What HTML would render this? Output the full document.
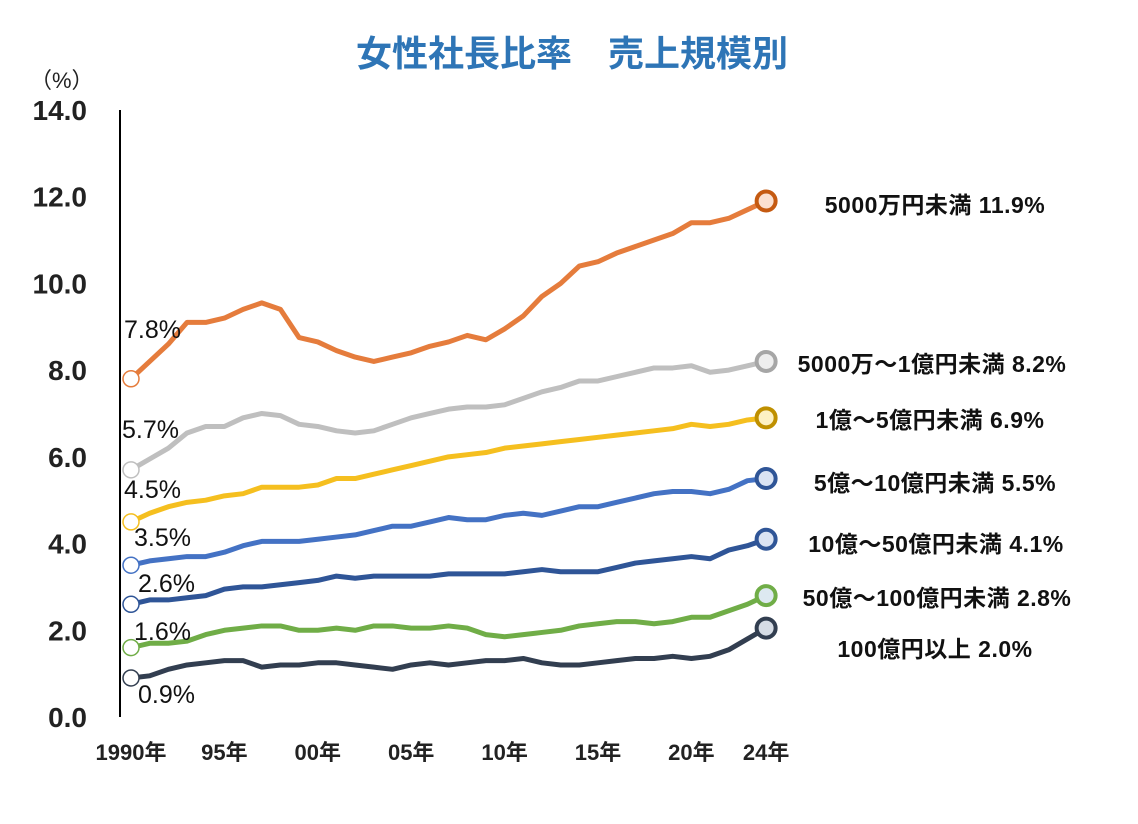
<!DOCTYPE html>
<html><head><meta charset="utf-8"><style>
body{margin:0;background:#fff;}
svg text{font-family:"Liberation Sans","Noto Sans CJK JP",sans-serif;}
</style></head><body>
<svg width="1138" height="819" xmlns="http://www.w3.org/2000/svg">
<text x="572" y="66" text-anchor="middle" font-size="36" font-weight="bold" fill="#2e75b6">女性社長比率　売上規模別</text>
<text x="30" y="88" font-size="22" fill="#222">（%）</text>
<g id="yaxis"></g>
<g id="xaxis"></g>
<g id="series"></g>
</svg>
<script>
const years = [];
for (let y = 1990; y <= 2024; y++) years.push(y);
const yTicks = [0,2,4,6,8,10,12,14];
const xTickYears = [1990,1995,2000,2005,2010,2015,2020,2024];
const xTickLabels = ["1990年","95年","00年","05年","10年","15年","20年","24年"];
const sUnder50m = [7.8,8.2,8.6,9.1,9.1,9.2,9.4,9.55,9.4,8.75,8.65,8.45,8.3,8.2,8.3,8.4,8.55,8.65,8.8,8.7,8.95,9.25,9.7,10.0,10.4,10.5,10.7,10.85,11.0,11.15,11.4,11.4,11.5,11.7,11.9];
const s50mTo100m = [5.7,5.95,6.2,6.55,6.7,6.7,6.9,7.0,6.95,6.75,6.7,6.6,6.55,6.6,6.75,6.9,7.0,7.1,7.15,7.15,7.2,7.35,7.5,7.6,7.75,7.75,7.85,7.95,8.05,8.05,8.1,7.95,8.0,8.1,8.2];
const s100mTo500m = [4.5,4.7,4.85,4.95,5.0,5.1,5.15,5.3,5.3,5.3,5.35,5.5,5.5,5.6,5.7,5.8,5.9,6.0,6.05,6.1,6.2,6.25,6.3,6.35,6.4,6.45,6.5,6.55,6.6,6.65,6.75,6.7,6.75,6.85,6.9];
const s500mTo1b = [3.5,3.6,3.65,3.7,3.7,3.8,3.95,4.05,4.05,4.05,4.1,4.15,4.2,4.3,4.4,4.4,4.5,4.6,4.55,4.55,4.65,4.7,4.65,4.75,4.85,4.85,4.95,5.05,5.15,5.2,5.2,5.15,5.25,5.45,5.5];
const s1bTo5b = [2.6,2.7,2.7,2.75,2.8,2.95,3.0,3.0,3.05,3.1,3.15,3.25,3.2,3.25,3.25,3.25,3.25,3.3,3.3,3.3,3.3,3.35,3.4,3.35,3.35,3.35,3.45,3.55,3.6,3.65,3.7,3.65,3.85,3.95,4.1];
const s5bTo10b = [1.6,1.7,1.7,1.75,1.9,2.0,2.05,2.1,2.1,2.0,2.0,2.05,2.0,2.1,2.1,2.05,2.05,2.1,2.05,1.9,1.85,1.9,1.95,2.0,2.1,2.15,2.2,2.2,2.15,2.2,2.3,2.3,2.45,2.6,2.8];
const sOver10b = [0.9,0.95,1.1,1.2,1.25,1.3,1.3,1.15,1.2,1.2,1.25,1.25,1.2,1.15,1.1,1.2,1.25,1.2,1.25,1.3,1.3,1.35,1.25,1.2,1.2,1.25,1.3,1.35,1.35,1.4,1.35,1.4,1.55,1.8,2.05];
const seriesNames = ["5000万円未満 11.9%","5000万～1億円未満 8.2%","1億～5億円未満 6.9%","5億～10億円未満 5.5%","10億～50億円未満 4.1%","50億～100億円未満  2.8%","100億円以上 2.0%"];
const startLabels = ["7.8%","5.7%","4.5%","3.5%","2.6%","1.6%","0.9%"];

const NS="http://www.w3.org/2000/svg";
const X=y=>131+(y-1990)*18.68;
const Y=v=>717-v*43.36;
function mk(tag,attrs,parent){const e=document.createElementNS(NS,tag);for(const k in attrs)e.setAttribute(k,attrs[k]);parent.appendChild(e);return e;}
const ya=document.getElementById('yaxis'),xa=document.getElementById('xaxis'),sg=document.getElementById('series');
const al=mk('line',{x1:120,y1:110,x2:120,y2:717,stroke:'#000','stroke-width':2},ya);


yTicks.forEach(t=>{const tx=mk('text',{x:87,y:Y(t)+10,'text-anchor':'end','font-size':28,'font-weight':'bold',fill:'#222'},ya);tx.textContent=t.toFixed(1);

});
xTickYears.forEach((yr,i)=>{const tx=mk('text',{x:X(yr),y:760,'text-anchor':'middle','font-size':22,'font-weight':'bold',fill:'#222'},xa);tx.textContent=xTickLabels[i];

});
const data=[sUnder50m,s50mTo100m,s100mTo500m,s500mTo1b,s1bTo5b,s5bTo10b,sOver10b];
const colors=['#e57c3c','#bfbfbf','#f5bf1f','#4472c4','#2f5597','#70ad47','#323e50'];
const endFill=['#fbe0d0','#eeeeee','#fdf1c4','#dae3f3','#dae3f3','#dde9f1','#d6dce5'];
const endStroke=['#c55a11','#a6a6a6','#bf9000','#2f5597','#2f5597','#70ad47','#323e50'];
const labelX=[935,932,930,935,936,937,935];
const labelY=[213,372,428,491,552,606,657];
const sLabelPos=[[124,338],[122,438],[124,498],[134,546],[138,592],[134,640],[138,703]];
data.forEach((d,si)=>{
 const pts=d.map((v,i)=>X(years[i])+','+Y(v)).join(' ');
 const pl=mk('polyline',{points:pts,fill:'none',stroke:colors[si],'stroke-width':5,'stroke-linejoin':'round'},sg);
 
 
 const c0=mk('circle',{cx:X(1990),cy:Y(d[0]),r:8,fill:'#fff',stroke:colors[si],'stroke-width':1.5},sg);
 
 
 const n=d.length-1;
 const c1=mk('circle',{cx:X(years[n]),cy:Y(d[n]),r:9.5,fill:endFill[si],stroke:endStroke[si],'stroke-width':4},sg);
 
 
 const sl=mk('text',{x:sLabelPos[si][0],y:sLabelPos[si][1],'font-size':25,fill:'#111'},sg);sl.textContent=startLabels[si];
 
 
 const el=mk('text',{x:labelX[si],y:labelY[si],'text-anchor':'middle','font-size':23,'font-weight':'bold',fill:'#111','letter-spacing':'0.5'},sg);el.textContent=seriesNames[si];
 
 
});
</script>
</body></html>
